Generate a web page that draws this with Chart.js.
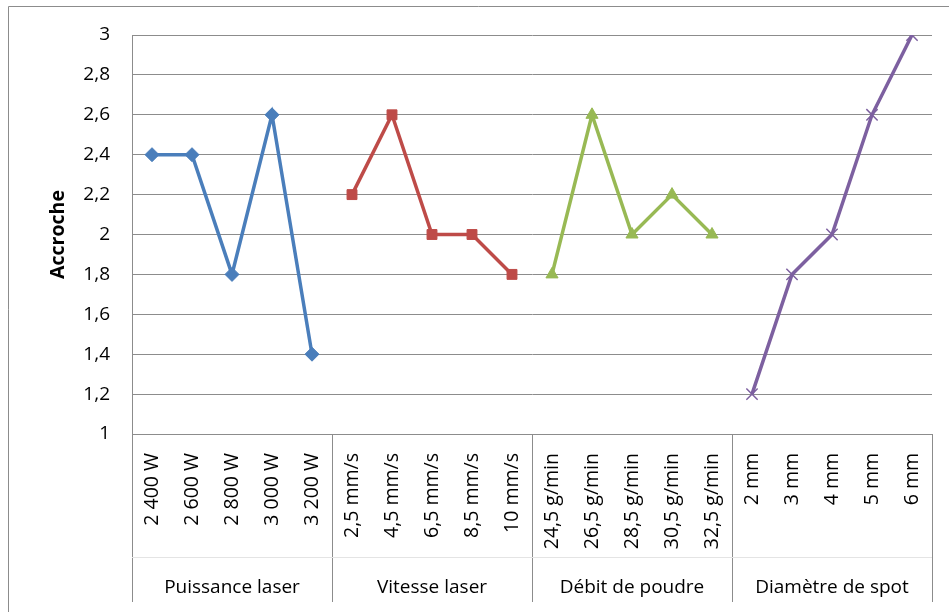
<!DOCTYPE html>
<html>
<head>
<meta charset="utf-8">
<title>Accroche</title>
<script src="https://cdn.jsdelivr.net/npm/chart.js@4"></script>
<style>
	body { margin: 0; background: #fff; }
	#wrap { width: 949px; height: 612px; position: relative; }
</style>
</head>
<body>
<div id="wrap"><canvas id="accrocheChart"></canvas></div>
<script>
// categories (5 per parameter)
const labels = [
	"2 400 W", "2 600 W", "2 800 W", "3 000 W", "3 200 W",
	"2,5 mm/s", "4,5 mm/s", "6,5 mm/s", "8,5 mm/s", "10 mm/s",
	"24,5 g/min", "26,5 g/min", "28,5 g/min", "30,5 g/min", "32,5 g/min",
	"2 mm", "3 mm", "4 mm", "5 mm", "6 mm",
];
const groups = ["Puissance laser", "Vitesse laser", "Débit de poudre", "Diamètre de spot"];

const puissance = [2.4, 2.4, 1.8, 2.6, 1.4];
const vitesse = [2.2, 2.6, 2.0, 2.0, 1.8];
const debit = [1.8, 2.6, 2.0, 2.2, 2.0];
const diametre = [1.2, 1.8, 2.0, 2.6, 3.0];

const FONT = "'Open Sans', Lato, sans-serif";
const GRID = "#8c8c8c";

// put a 5-value series at its place among the 20 categories
const place = (vals, g) => labels.map((l, i) => (Math.floor(i / 5) === g ? vals[i % 5] : null));

const frame = {
	id: "frame",
	beforeDraw(chart) {
		const ctx = chart.ctx;
		ctx.save();
		ctx.fillStyle = "#fff";
		ctx.fillRect(0, 0, chart.width, chart.height);
		ctx.strokeStyle = GRID;
		ctx.lineWidth = 1;
		ctx.beginPath();
		ctx.moveTo(8.5, chart.height);
		ctx.lineTo(8.5, 6.5);
		ctx.lineTo(chart.width, 6.5);
		ctx.stroke();
		ctx.restore();
	},
	afterDraw(chart) {
		const ctx = chart.ctx;
		const x = chart.scales.x;
		const area = chart.chartArea;
		const step = x.getPixelForValue(1) - x.getPixelForValue(0);
		ctx.save();
		// group separators under the axis
		ctx.strokeStyle = GRID;
		ctx.lineWidth = 1;
		for (let g = 0; g <= groups.length; g++) {
			const px = Math.round(x.getPixelForValue(g * 5) - step / 2) + 0.5;
			ctx.beginPath();
			ctx.moveTo(px, area.bottom);
			ctx.lineTo(px, 602);
			ctx.stroke();
		}
		ctx.strokeStyle = "#e4e4e4";
		ctx.beginPath();
		ctx.moveTo(area.left, 557.5);
		ctx.lineTo(area.right, 557.5);
		ctx.stroke();
		// group names
		ctx.fillStyle = "#000";
		ctx.font = "19px " + FONT;
		ctx.textAlign = "center";
		ctx.textBaseline = "middle";
		groups.forEach((name, g) => {
			const cx = (x.getPixelForValue(g * 5) + x.getPixelForValue(g * 5 + 4)) / 2;
			ctx.fillText(name, cx, 588);
		});
		// y title
		ctx.font = "bold 19.5px " + FONT;
		ctx.translate(58, (area.top + area.bottom) / 2);
		ctx.rotate(-Math.PI / 2);
		ctx.fillText("Accroche", 0, 0);
		ctx.restore();
	},
};

const serie = (data, color, style, radius, extra) =>
	Object.assign({
		data: data,
		borderColor: color,
		backgroundColor: color,
		pointBackgroundColor: color,
		pointBorderColor: color,
		borderWidth: 3.5,
		pointStyle: style,
		pointRadius: radius,
		pointHoverRadius: radius,
		pointBorderWidth: 1,
		tension: 0,
		spanGaps: false,
	}, extra || {});

new Chart(document.getElementById("accrocheChart"), {
	type: "line",
	data: {
		labels: labels,
		datasets: [
			serie(place(puissance, 0), "#4a7ebb", "rectRot", 7),
			serie(place(vitesse, 1), "#be4b48", "rect", 7),
			serie(place(debit, 2), "#98b954", "triangle", 7),
			serie(place(diametre, 3), "#7d60a0", "crossRot", 8, { pointBorderWidth: 1.5 }),
		],
	},
	options: {
		responsive: true,
		maintainAspectRatio: false,
		animation: false,
		layout: { padding: { top: 35, right: 17, left: 0, bottom: 0 } },
		plugins: { legend: { display: false }, tooltip: { enabled: false } },
		scales: {
			x: {
				offset: true,
				grid: { display: false },
				border: { display: false },
				afterFit: (s) => { s.height = 178; },
				ticks: {
					autoSkip: false,
					maxRotation: 90,
					minRotation: 90,
					padding: 11,
					color: "#000",
					font: { family: FONT, size: 19.5 },
				},
			},
			y: {
				min: 1,
				max: 3,
				afterFit: (s) => { s.width = 132; },
				grid: { color: GRID, lineWidth: 1, drawTicks: false },
				border: { color: GRID, width: 1 },
				ticks: {
					stepSize: 0.2,
					padding: 22,
					color: "#000",
					font: { family: FONT, size: 19 },
					callback: (v) => String(Number(v.toFixed(1))).replace(".", ","),
				},
			},
		},
	},
	plugins: [frame],
});
</script>
</body>
</html>
